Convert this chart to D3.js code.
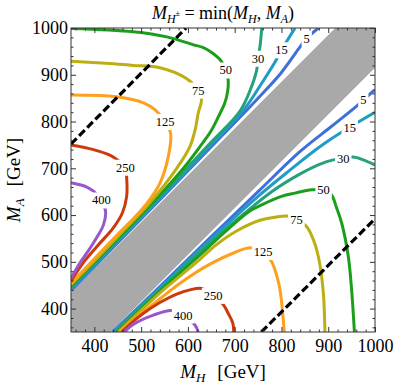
<!DOCTYPE html>
<html>
<head>
<meta charset="utf-8">
<script src="https://cdn.jsdelivr.net/npm/d3@7"></script>
<style>
  body { margin: 0; background: #fff; }
  svg text { font-family: "Liberation Serif", "DejaVu Serif", serif; fill: #000; }
</style>
</head>
<body>
<svg id="chart" width="395" height="386"></svg>
<script>
// Contour levels and their colours
const levels = [5, 15, 30, 50, 75, 125, 250, 400];
const levelColors = ["#3f6fd9", "#1f9cc4", "#25a17d", "#1c9e1c", "#bdae12", "#ffa01c", "#cc3a0c", "#9957cc"];

// Branches below the diagonal (M_H > M_A), points [M_H, M_A] in GeV
const lowerContours = [
  [[439,350],[550,457],[650,554],[750,650],[840,736],[910,792],[962,834],[975,846],[1000,868]],
  [[442,350],[550,454],[650,549],[750,640],[818,696],[882,746],[930,778],[946,787],[966,800],[1000,820]],
  [[445,350],[550,450],[650,543],[720,603],[782,652],[840,688],[880,708],[911,718],[932,720],[953,724],[975,718],[1000,707]],
  [[448,350],[550,446],[615,505],[686,570],[733,609],[760,623],[800,640],[829,647],[865,654],[890,654],[907,643],[918,615],[929,582],[943,511],[950,440],[956,350]],
  [[451,350],[550,442],[615,496],[660,536],[704,566],[754,589],[790,596],[811,598],[832,591],[854,575],[868,548],[879,511],[889,440],[893,350]],
  [[454,350],[497,387],[540,421],[590,459],[647,495],[700,520],[733,530],[761,522],[779,500],[790,470],[797,440],[806,350]],
  [[459,350],[480,370],[505,390],[540,413],[576,431],[604,440],[629,443],[654,428],[676,408],[686,390],[696,369],[698,350]],
  [[464,350],[483,366],[526,386],[565,396],[590,386],[615,365],[622,350]]
];

// Branches above the diagonal (M_A > M_H)
const upperContours = [
  [[350,439],[450,541],[550,643],[650,746],[750,850],[800,905],[840,960],[854,978],[879,1000]],
  [[350,442],[450,544],[550,646],[650,751],[720,826],[754,876],[785,925],[800,953],[811,971],[829,1000]],
  [[350,445],[450,547],[550,650],[650,756],[711,822],[733,867],[747,910],[750,935],[754,960],[758,1000]],
  [[350,448],[450,550],[550,654],[600,712],[630,752],[650,781],[665,810],[679,840],[685,865],[686,889],[681,910],[669,932],[650,948],[633,958],[612,964],[555,981],[483,992],[350,999]],
  [[350,451],[450,554],[520,628],[576,700],[604,746],[616,785],[622,818],[629,846],[622,867],[595,893],[540,915],[483,920],[433,924],[350,929]],
  [[350,454],[451,560],[483,592],[512,625],[540,668],[558,725],[563,775],[551,800],[530,825],[505,840],[448,853],[350,857]],
  [[350,459],[380,503],[410,538],[440,572],[460,605],[469,640],[469,680],[466,702],[452,716],[433,728],[398,740],[350,750]],
  [[350,465],[368,496],[388,525],[405,552],[419,578],[424,607],[415,632],[398,651],[384,660],[350,669]]
];

// Where the level labels sit
const lowerLabels = [[975,846],[946,787],[932,720],[890,654],[832,591],[761,522],[654,428],[590,386]];
const upperLabels = [[854,978],[800,953],[750,935],[681,910],[622,867],[551,800],[466,702],[415,632]];

// Excluded band around the diagonal
const bandEdge = [[350,350],[350,435],[915,1000],[1000,1000],[1000,915],[435,350]];

// Dashed lines
const dashUpper = [[350,752],[596,1000]];
const dashLower = [[757,350],[1000,592]];

const xTicks = [400, 500, 600, 700, 800, 900, 1000];
const yTicks = [400, 500, 600, 700, 800, 900, 1000];

const svg = d3.select("#chart");
const width = +svg.attr("width");
const height = +svg.attr("height");
const margin = { top: 28, right: 20, bottom: 54, left: 71 };
const innerWidth = width - margin.left - margin.right;
const innerHeight = height - margin.top - margin.bottom;
const serif = "Liberation Serif, serif";

const gGroup = svg.append("g")
  .attr("transform", `translate(${margin.left},${margin.top})`);

const xScale = d3.scaleLinear().domain([350, 1000]).range([0, innerWidth]);
const yScale = d3.scaleLinear().domain([350, 1000]).range([innerHeight, 0]);

gGroup.append("clipPath").attr("id", "plotClip")
  .append("rect").attr("width", innerWidth).attr("height", innerHeight);

const plot = gGroup.append("g").attr("clip-path", "url(#plotClip)");

// gray band
plot.append("path")
  .attr("d", d3.line().x(d => xScale(d[0])).y(d => yScale(d[1]))(bandEdge) + "Z")
  .attr("fill", "#a9a9a9");

const lineGenerator = d3.line()
  .x(d => xScale(d[0]))
  .y(d => yScale(d[1]))
  .curve(d3.curveCatmullRom.alpha(0.5));

[lowerContours, upperContours].forEach(set => {
  set.forEach((pts, i) => {
    plot.append("path")
      .attr("d", lineGenerator(pts))
      .attr("fill", "none")
      .attr("stroke", levelColors[i])
      .attr("stroke-width", 3)
      .attr("stroke-linecap", "butt");
  });
});

[dashUpper, dashLower].forEach(pts => {
  plot.append("path")
    .attr("d", d3.line().x(d => xScale(d[0])).y(d => yScale(d[1]))(pts))
    .attr("fill", "none")
    .attr("stroke", "#000")
    .attr("stroke-width", 3.2)
    .attr("stroke-dasharray", "8,3.5");
});

// contour labels: white box first, then the number
const labelLayer = gGroup.append("g");
[lowerLabels, upperLabels].forEach(set => {
  set.forEach((p, i) => {
    const g = labelLayer.append("g")
      .attr("transform", `translate(${xScale(p[0])},${yScale(p[1])})`);
    const box = g.append("rect").attr("fill", "#fff");
    const t = g.append("text")
      .attr("text-anchor", "middle")
      .attr("dy", "0.35em")
      .attr("font-size", 12.5)
      .text(levels[i]);
    const bb = t.node().getBBox();
    box.attr("x", bb.x - 2).attr("y", bb.y - 1)
      .attr("width", bb.width + 4).attr("height", bb.height + 2);
  });
});

// frame + ticks (inward, on all four sides)
const minorTicks = d3.range(360, 1000, 20).filter(v => v % 100 !== 0);
const fmt = d3.format("d");

function styleAxis(g) {
  g.attr("font-family", null).attr("font-size", null);
  g.select(".domain").remove();
  g.selectAll(".tick line").attr("stroke", "#333");
  g.selectAll("text").attr("font-size", 18);
}

gGroup.append("g").attr("transform", `translate(0,${innerHeight})`)
  .call(d3.axisBottom(xScale).tickValues(xTicks).tickFormat(fmt).tickSize(-5).tickPadding(7)).call(styleAxis);
gGroup.append("g").attr("transform", `translate(0,${innerHeight})`)
  .call(d3.axisBottom(xScale).tickValues(minorTicks).tickSize(-2.5).tickFormat("")).call(styleAxis);
gGroup.append("g")
  .call(d3.axisTop(xScale).tickValues(xTicks).tickSize(-5).tickFormat("")).call(styleAxis);
gGroup.append("g")
  .call(d3.axisTop(xScale).tickValues(minorTicks).tickSize(-2.5).tickFormat("")).call(styleAxis);
gGroup.append("g")
  .call(d3.axisLeft(yScale).tickValues(yTicks).tickFormat(fmt).tickSize(-5).tickPadding(3)).call(styleAxis);
gGroup.append("g")
  .call(d3.axisLeft(yScale).tickValues(minorTicks).tickSize(-2.5).tickFormat("")).call(styleAxis);
gGroup.append("g").attr("transform", `translate(${innerWidth},0)`)
  .call(d3.axisRight(yScale).tickValues(yTicks).tickSize(-5).tickFormat("")).call(styleAxis);
gGroup.append("g").attr("transform", `translate(${innerWidth},0)`)
  .call(d3.axisRight(yScale).tickValues(minorTicks).tickSize(-2.5).tickFormat("")).call(styleAxis);

gGroup.append("rect")
  .attr("width", innerWidth).attr("height", innerHeight)
  .attr("fill", "none").attr("stroke", "#333").attr("stroke-width", 1);

// title
const title = svg.append("text")
  .attr("x", margin.left + innerWidth / 2).attr("y", 19)
  .attr("text-anchor", "middle").attr("font-size", 18);
title.append("tspan").attr("font-style", "italic").text("M");
title.append("tspan").attr("font-style", "italic").attr("font-size", 12).attr("dy", 4).text("H");
title.append("tspan").attr("font-size", 8).attr("dy", -7).text("±");
title.append("tspan").attr("dy", 3).text(" = min(");
title.append("tspan").attr("font-style", "italic").text("M");
title.append("tspan").attr("font-style", "italic").attr("font-size", 12).attr("dy", 4).text("H");
title.append("tspan").attr("dy", -4).text(", ");
title.append("tspan").attr("font-style", "italic").text("M");
title.append("tspan").attr("font-style", "italic").attr("font-size", 12).attr("dy", 4).text("A");
title.append("tspan").attr("dy", -4).text(")");

// axis titles
const xTitle = svg.append("text")
  .attr("x", margin.left + innerWidth / 2).attr("y", 378)
  .attr("text-anchor", "middle").attr("font-size", 19);
xTitle.append("tspan").attr("font-style", "italic").text("M");
xTitle.append("tspan").attr("font-style", "italic").attr("font-size", 13).attr("dy", 4).text("H");
xTitle.append("tspan").attr("dy", -4).attr("dx", 12).text("[GeV]");

const yTitle = svg.append("text")
  .attr("transform", `translate(20,${margin.top + innerHeight / 2}) rotate(-90)`)
  .attr("text-anchor", "middle").attr("font-size", 19);
yTitle.append("tspan").attr("font-style", "italic").text("M");
yTitle.append("tspan").attr("font-style", "italic").attr("font-size", 13).attr("dy", 4).text("A");
yTitle.append("tspan").attr("dy", -4).attr("dx", 12).text("[GeV]");
</script>
</body>
</html>
